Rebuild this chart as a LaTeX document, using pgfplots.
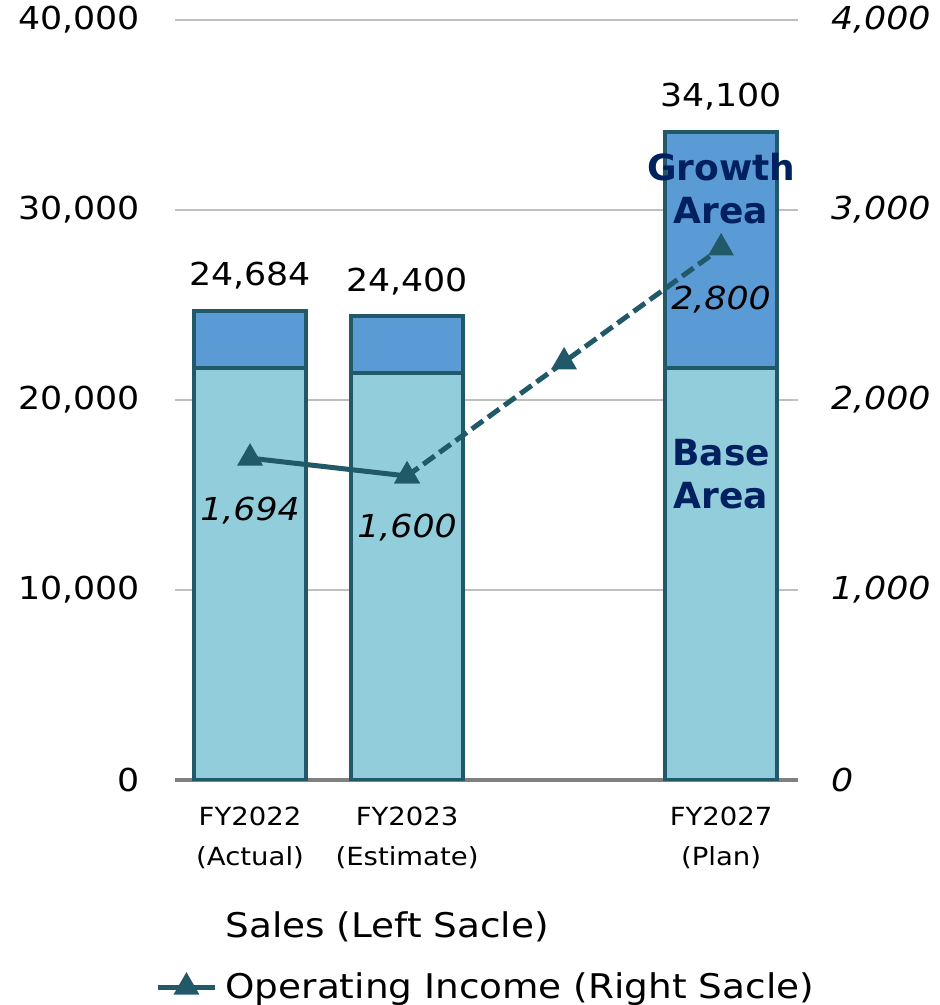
\documentclass[border=0pt]{standalone}
\usepackage{fontspec}
\setmainfont{DejaVu Sans}[FakeStretch=1.1]
\newfontfamily\boldf{DejaVu Sans Bold}
\usepackage{pgfplots}
\pgfplotsset{compat=1.18}
\definecolor{base}{HTML}{92CDDC}
\definecolor{growth}{HTML}{5B9BD5}
\definecolor{edge}{HTML}{215968}
\definecolor{navy}{HTML}{002060}
\definecolor{gridc}{HTML}{BFBFBF}
\definecolor{axisc}{HTML}{808080}
\begin{document}
\begin{tikzpicture}
\pgfplotsset{
  common/.style={
    scale only axis, width=311.5pt, height=380pt,
    xmin=-0.478, xmax=3.49,
    major tick length=0pt,
    /pgf/number format/1000 sep={,},
    /pgf/number format/assume math mode=true,
    scaled y ticks=false,
  }
}
\begin{axis}[common, name=main,
  ymin=0, ymax=40000, ytick={0,10000,...,40000},
  axis x line*=bottom, axis y line*=left,
  y axis line style={draw=none},
  x axis line style={draw=axisc, line width=2pt, -},
  ymajorgrids, grid style={gridc, line width=0.7pt},
  yticklabel style={font=\fontsize{15.8}{18}\selectfont, xshift=-14pt},
  xtick={0,1,3},
  xticklabels={{FY2022\\(Actual)},{FY2023\\(Estimate)},{FY2027\\(Plan)}},
  xticklabel style={align=center, font=\fontsize{12.5}{20}\selectfont, yshift=-10pt},
  ybar stacked, bar width=0.713,
]
\addplot[fill=base, draw=edge, line width=2pt] coordinates {(0,21684) (1,21400) (3,21700)};
\addplot[fill=growth, draw=edge, line width=2pt] coordinates {(0,3000) (1,3000) (3,12400)};
\end{axis}
\begin{axis}[common,
  ymin=0, ymax=4000, ytick={0,1000,...,4000},
  hide x axis, axis y line*=right,
  y axis line style={draw=none},
  yticklabel style={font=\itshape\fontsize{15.8}{18}\selectfont, xshift=13pt},
  legend style={at={(-0.032,-0.173)}, anchor=north west, draw=none, fill=none,
    inner sep=0pt, column sep=4pt, row sep=16pt,
    font=\fontsize{17}{20}\selectfont,
    nodes={inner sep=0pt}},
  legend cell align=left,
  legend image code/.code={\draw[#1, mark repeat=2, mark phase=2] plot coordinates {(0pt,0pt) (14.25pt,0pt) (28.5pt,0pt)};},
]
\addlegendimage{empty legend}
\addlegendentry{Sales (Left Sacle)}
\addplot[edge, line width=2.5pt, mark=triangle*, mark size=6.5pt, mark options={solid, fill=edge, line width=1pt},
  point meta=explicit, nodes near coords,
  nodes near coords style={anchor=center, yshift=-26pt, text=black, font=\itshape\fontsize{15.8}{18}\selectfont}]
  coordinates {(0,1694) [1694] (1,1600) [1600]};
\addlegendentry{Operating Income (Right Sacle)}
\addplot[edge, line width=2.5pt, dash pattern=on 7pt off 3pt, mark=triangle*, mark size=6.5pt, mark options={solid, fill=edge, line width=1pt},
  point meta=explicit symbolic, nodes near coords,
  nodes near coords style={anchor=center, yshift=-26pt, text=black, font=\itshape\fontsize{15.8}{18}\selectfont}, forget plot]
  coordinates {(1,1600) [] (2,2200) [] (3,2800) [2,800]};
\addplot[draw=none, mark=none, forget plot, point meta=explicit, nodes near coords,
  nodes near coords style={anchor=center, yshift=17.5pt, text=black, font=\fontsize{15.8}{18}\selectfont}]
  coordinates {(0,2468.4) [24684] (1,2440) [24400] (3,3410) [34100]};
\node[font=\boldf\fontsize{18}{21.5}\selectfont, text=navy, align=center] at (axis cs:3,3113) {Growth\\Area};
\node[font=\boldf\fontsize{18}{21.5}\selectfont, text=navy, align=center] at (axis cs:3,1610) {Base\\Area};
\end{axis}
\pgfresetboundingbox
\path ([shift={(-87.5pt,-112.5pt)}]main.south west) rectangle ([shift={(70.5pt,10pt)}]main.north east);
\end{tikzpicture}
\end{document}
